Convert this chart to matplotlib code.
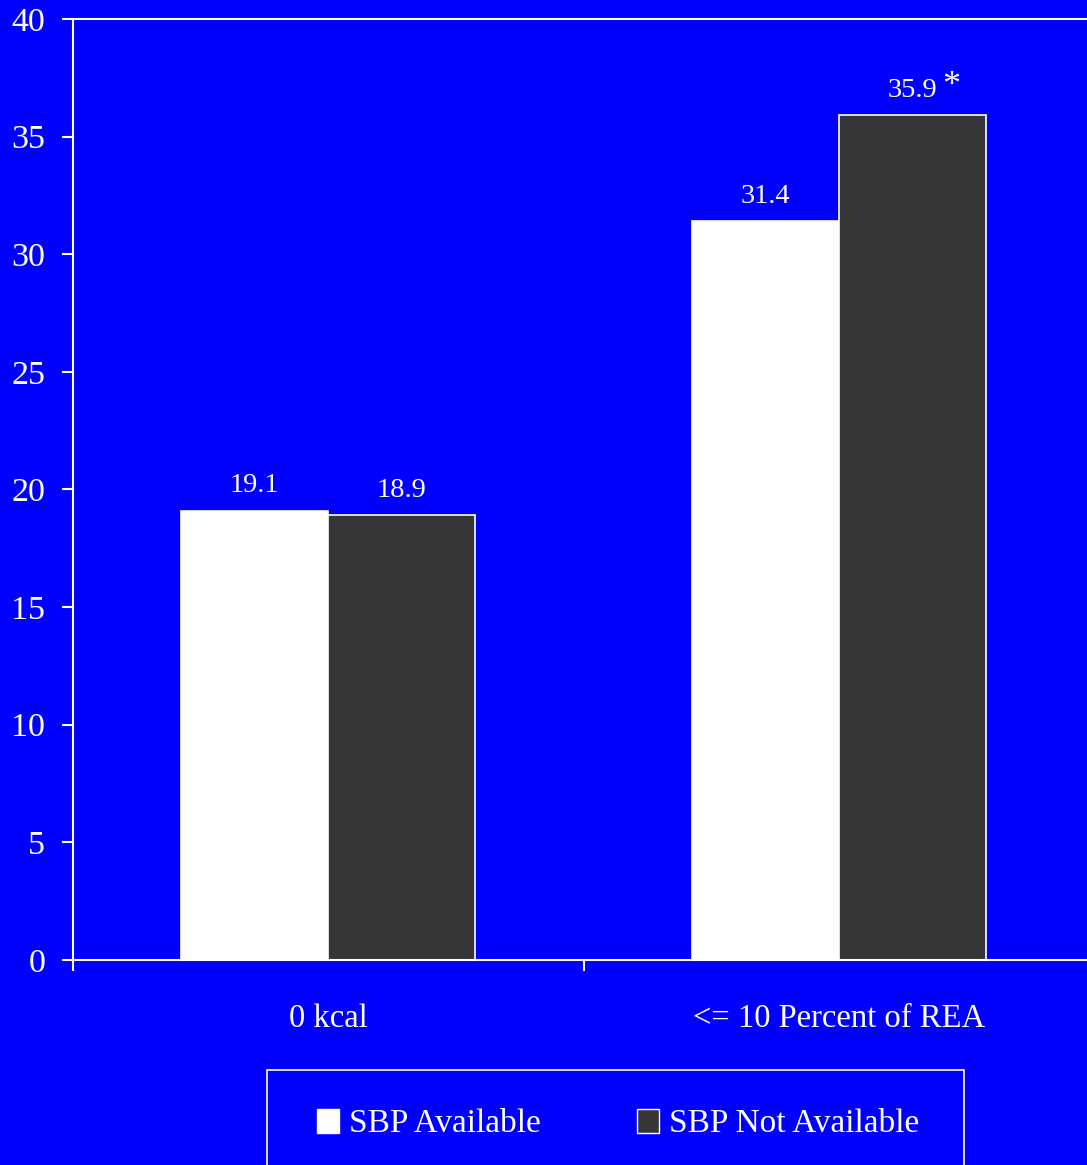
import numpy as np
import matplotlib.pyplot as plt
from matplotlib.patches import Patch, Rectangle

categories = ["0 kcal", "<= 10 Percent of REA"]
sbp_available = [19.1, 31.4]
sbp_not_available = [18.9, 35.9]
series_names = ["SBP Available", "SBP Not Available"]
y_ticks = [0, 5, 10, 15, 20, 25, 30, 35, 40]

BG = "#0000ff"
DARK = "#363636"

plt.rcParams["font.family"] = ["Liberation Serif", "DejaVu Serif"]

fig = plt.figure(figsize=(10.87, 11.65), dpi=100, facecolor=BG)
W, H = 1087, 1165
# axes run off the right edge of the page
ax = fig.add_axes([73 / W, 1 - 960 / H, 1021 / W, 941 / H], facecolor=BG)

x = np.arange(len(categories))
bw = 0.288
b1 = ax.bar(x - bw / 2, sbp_available, bw, color="white", edgecolor="white", linewidth=1.2)
b2 = ax.bar(x + bw / 2, sbp_not_available, bw, color=DARK, edgecolor="white", linewidth=1.2)

for bars, vals in [(b1, sbp_available), (b2, sbp_not_available)]:
    for rect, v in zip(bars, vals):
        ax.annotate(f"{v:.1f}", (rect.get_x() + rect.get_width() / 2, v),
                    xytext=(0, 18), textcoords="offset points",
                    ha="center", va="center", color="white", fontsize=20.5)

# significance marker next to the tallest bar's label
ax.annotate("*", (x[1] + bw / 2, sbp_not_available[1]), xytext=(28, 21),
            textcoords="offset points", ha="center", va="center",
            color="white", fontsize=26)

ax.set_xlim(-0.5, 1.5)
ax.set_ylim(0, 40)
ax.set_yticks(y_ticks)
ax.set_xticks([-0.5, 0.5])
ax.set_xticklabels([])
ax.set_xticks(x, minor=True)
ax.set_xticklabels(categories, minor=True)
ax.tick_params(axis="x", which="minor", length=0, pad=31, labelsize=23.5, colors="white")
ax.tick_params(axis="x", which="major", length=8, width=1.5, colors="white")
ax.tick_params(axis="y", length=8, width=1.5, colors="white", labelsize=24.5, pad=12)

for side in ["left", "top", "bottom"]:
    ax.spines[side].set_color("white")
    ax.spines[side].set_linewidth(1.5)
ax.spines["right"].set_visible(False)

# legend box drawn on its own, running off the bottom of the page
fig.add_artist(Rectangle((267 / W, 1 - 1176 / H), 697 / W, 106 / H,
                         transform=fig.transFigure, facecolor="none",
                         edgecolor="white", linewidth=1.2))
handles = [Patch(facecolor="white", edgecolor="white", label=series_names[0]),
           Patch(facecolor=DARK, edgecolor="white", label=series_names[1])]
leg = fig.legend(handles=handles, ncol=2, loc="center",
                 bbox_to_anchor=(618 / W, 1 - 1124 / H),
                 frameon=False, fontsize=24,
                 handlelength=0.65, handleheight=0.75, handletextpad=0.3,
                 borderpad=0, columnspacing=2.9)
for t in leg.get_texts():
    t.set_color("white")

fig.savefig("out.png", dpi=100, facecolor=BG)
